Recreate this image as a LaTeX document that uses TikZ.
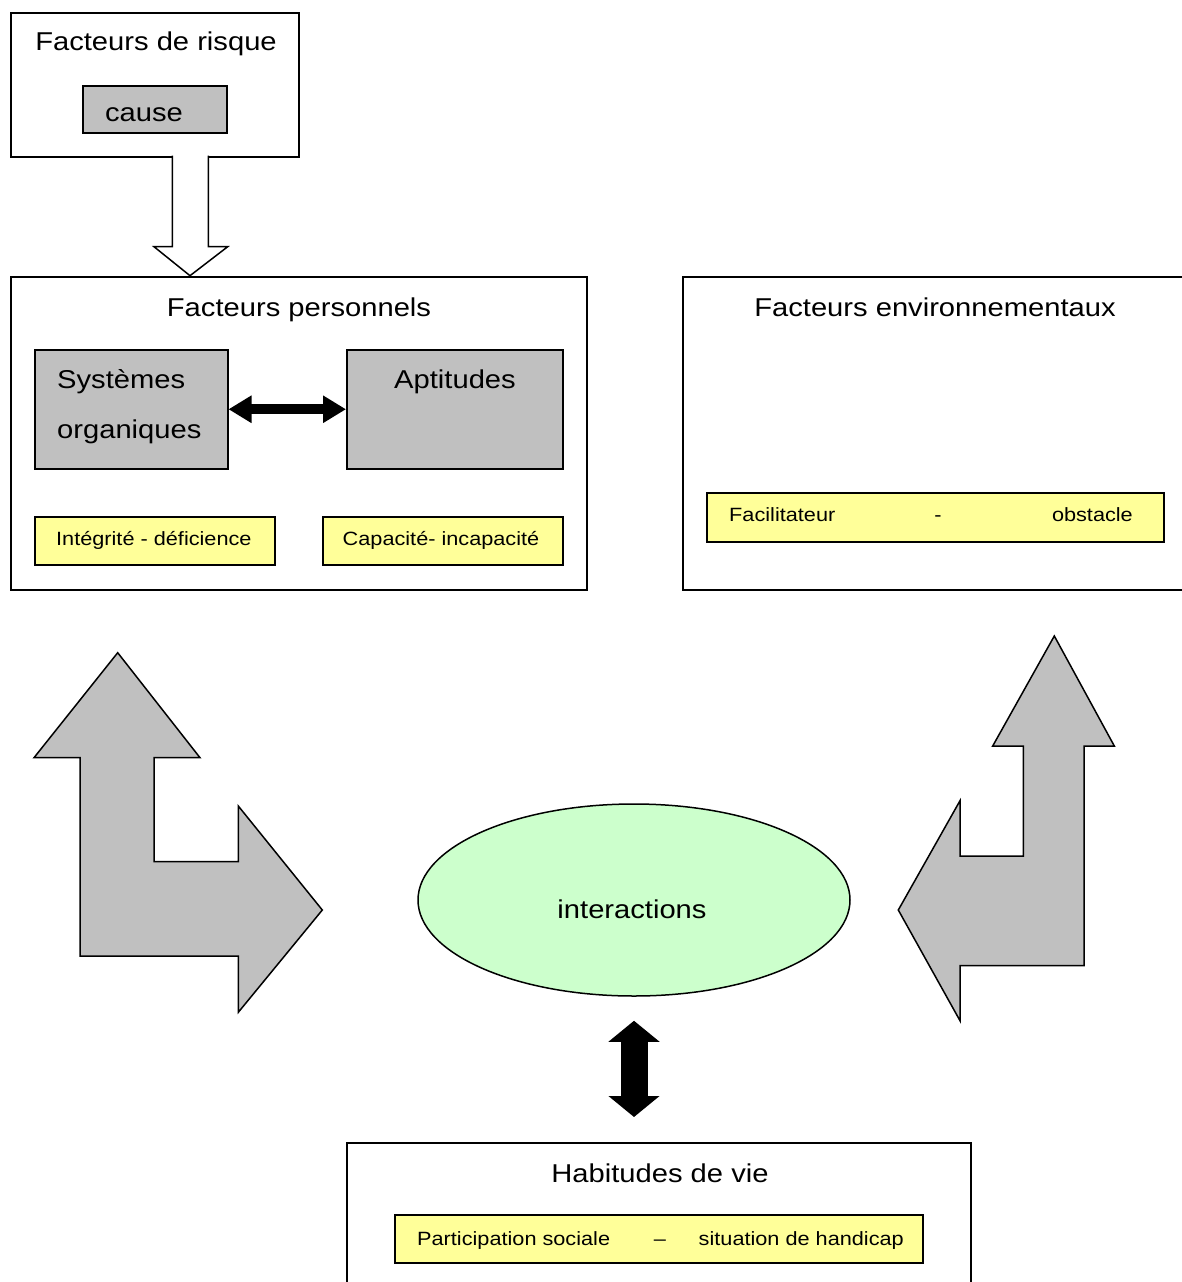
\documentclass[tikz,border=0pt]{standalone}
\usepackage{fontspec}
\setmainfont{Liberation Sans}[FakeStretch=1.13]
\usetikzlibrary{positioning, arrows.meta, shapes.geometric}

\definecolor{boxgray}{HTML}{C0C0C0}
\definecolor{paleyellow}{HTML}{FFFF99}
\definecolor{palegreen}{HTML}{CCFFCC}

\begin{document}
\begin{tikzpicture}[
        x=1pt, y=-1pt,
        bigfont/.style={font=\fontsize{25.8}{30}\selectfont},
        smallfont/.style={font=\fontsize{19.2}{23}\selectfont},
        frame/.style={rectangle, draw, line width=1.5pt, fill=white, anchor=north west, inner sep=0pt},
        graybox/.style={frame, fill=boxgray},
        yellowbox/.style={frame, fill=paleyellow},
        txt/.style={inner sep=0pt, anchor=base},
        dbl/.style={line width=#1},
        bigarrow/.style={draw, line width=1.5pt, fill=boxgray, line join=miter}
    ]
    \useasboundingbox (0,0) rectangle (1182,1282);
    \clip (0,0) rectangle (1182,1282);

    % risk factors
    \node[frame, minimum width=288pt, minimum height=144pt] (risk) at (10,12) {};
    \node[txt, bigfont] (risktitle) at (156,50) {Facteurs de risque};
    \node[graybox, minimum width=144pt, minimum height=47pt] (cause) at (82,85) {};
    \node[txt, bigfont] (causetxt) at (144,121) {cause};

    % hollow arrow down
    \draw[line width=1.5pt, fill=white, line join=miter]
        (172.3,155.7) -- (172.3,246.7) -- (154,246.7) -- (190,275.7)
        -- (227.7,246.7) -- (208.3,246.7) -- (208.3,155.7);

    % personal factors
    \node[frame, minimum width=576pt, minimum height=313pt] (perso) at (10,276) {};
    \node[txt, bigfont] (persotitle) at (299,316) {Facteurs personnels};
    \node[graybox, minimum width=193pt, minimum height=119pt] (sys) at (34,349) {};
    \node[txt, bigfont, anchor=base west] (systxt) at (57,388) {Systèmes};
    \node[txt, bigfont, anchor=base west] (orgtxt) at (57,438) {organiques};
    \node[graybox, minimum width=216pt, minimum height=119pt] (apt) at (346,349) {};
    \node[txt, bigfont] (apttxt) at (455,388) {Aptitudes};
    \node[yellowbox, minimum width=240pt, minimum height=48pt] (integ) at (34,516) {};
    \node[txt, smallfont, anchor=base west] (integtxt) at (56,545) {Intégrité - déficience};
    \node[yellowbox, minimum width=240pt, minimum height=48pt] (capac) at (322,516) {};
    \node[txt, smallfont] (capactxt) at (441,545) {Capacité- incapacité};

    \draw[dbl=10pt, {Triangle[length=23pt, width=26pt]}-{Triangle[length=23pt, width=26pt]}] (sys) -- (apt);

    % environmental factors
    \node[frame, minimum width=520pt, minimum height=313pt] (envir) at (682,276) {};
    \node[txt, bigfont] (envirtitle) at (935,316) {Facteurs environnementaux};
    \node[yellowbox, minimum width=457pt, minimum height=49pt] (facil) at (706,492) {};
    \node[txt, smallfont, anchor=base west] (faciltxt) at (729,521) {Facilitateur};
    \node[txt, smallfont] (facildash) at (938,521) {-};
    \node[txt, smallfont, anchor=base east] (obsttxt) at (1133,521) {obstacle};

    % big L arrows
    \draw[bigarrow] (117.7,652.7) -- (200,757.7) -- (154,757.7) -- (154,861.7)
        -- (238.3,861.7) -- (238.3,806) -- (322.3,910) -- (238.3,1012.3)
        -- (238.3,956) -- (80,956) -- (80,757.7) -- (34,757.7) -- cycle;
    \draw[bigarrow] (1054.3,636) -- (1114.3,746) -- (1084,746) -- (1084,965.7)
        -- (960,965.7) -- (960,1020.7) -- (898.3,910) -- (960,800.7)
        -- (960,856) -- (1023.3,856) -- (1023.3,746) -- (992.7,746) -- cycle;

    % interactions
    \node[ellipse, draw, line width=1.5pt, fill=palegreen, minimum width=432pt, minimum height=192pt] (inter) at (634,900) {};
    \node[txt, bigfont] (intertxt) at (632,918) {interactions};

    % life habits
    \node[frame, minimum width=624pt, minimum height=160pt] (habit) at (346,1142) {};
    \node[txt, bigfont] (habittitle) at (660,1182) {Habitudes de vie};
    \node[yellowbox, minimum width=528pt, minimum height=48pt] (partic) at (394,1214) {};
    \node[txt, smallfont, anchor=base west] (partictxt) at (417,1245) {Participation sociale};
    \node[txt, smallfont] (particdash) at (660,1245) {–};
    \node[txt, smallfont, anchor=base east] (situtxt) at (904,1245) {situation de handicap};

    \draw[dbl=27pt, {Triangle[length=21pt, width=50pt]}-{Triangle[length=21pt, width=50pt]},
        shorten <=24pt, shorten >=25pt] (inter.south) -- (inter.south |- habit.north);
\end{tikzpicture}
\end{document}
